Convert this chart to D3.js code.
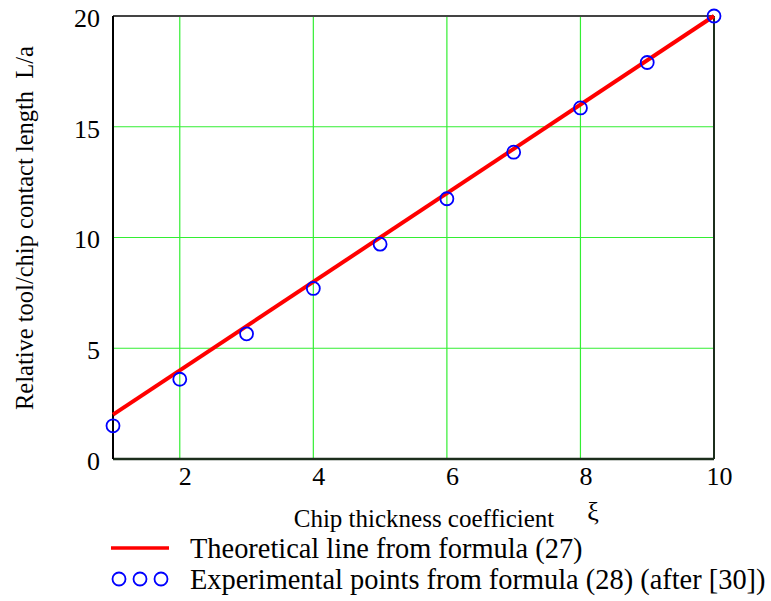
<!DOCTYPE html>
<html>
<head>
<meta charset="utf-8">
<script src="https://cdn.jsdelivr.net/npm/d3@7"></script>
<style>
  body { margin: 0; background: #fff; }
  text { font-family: "Liberation Serif", "Times New Roman", serif; fill: #000; }
</style>
</head>
<body>
<script>
// Data
const theoryXi = [1, 10];
const theoryL = [2, 20];
const expXi = [1, 2, 3, 4, 5, 6, 7, 8, 9, 10];
const expL = [1.5, 3.6, 5.65, 7.7, 9.7, 11.75, 13.85, 15.85, 17.9, 20];
const xTicks = [2, 4, 6, 8, 10];
const yTicks = [0, 5, 10, 15, 20];

const w = 771;
const h = 601;
const margin = {left: 113, right: 57, top: 16, bottom: 142};

const x = d3.scaleLinear().domain([1, 10]).range([margin.left, w - margin.right]);
const y = d3.scaleLinear().domain([0, 20]).range([h - margin.bottom, margin.top]);

const svg = d3.select("body").append("svg")
  .attr("width", w)
  .attr("height", h);

// grid
svg.append("g")
  .selectAll("line")
  .data(xTicks.filter(d => d < 10))
  .enter().append("line")
  .attr("x1", d => x(d)).attr("x2", d => x(d))
  .attr("y1", y(0)).attr("y2", y(20))
  .attr("stroke", "#33ee33").attr("stroke-width", 1.2);

svg.append("g")
  .selectAll("line")
  .data(yTicks.filter(d => d > 0 && d < 20))
  .enter().append("line")
  .attr("x1", x(1)).attr("x2", x(10))
  .attr("y1", d => y(d)).attr("y2", d => y(d))
  .attr("stroke", "#33ee33").attr("stroke-width", 1.2);

// frame
svg.append("line").attr("x1", x(1)).attr("x2", x(10)).attr("y1", y(20)).attr("y2", y(20))
  .attr("stroke", "#444").attr("stroke-width", 2);
svg.append("line").attr("x1", x(10)).attr("x2", x(10)).attr("y1", y(20)).attr("y2", y(0))
  .attr("stroke", "#1c2e1c").attr("stroke-width", 2);
svg.append("line").attr("x1", x(1)).attr("x2", x(10)).attr("y1", y(0)).attr("y2", y(0))
  .attr("stroke", "#1c2e1c").attr("stroke-width", 2.5);
svg.append("line").attr("x1", x(1)).attr("x2", x(1)).attr("y1", y(20)).attr("y2", y(0))
  .attr("stroke", "#000").attr("stroke-width", 2);

// axes (labels only)
const xAxis = svg.append("g")
  .attr("transform", `translate(5, ${y(0)})`)
  .call(d3.axisBottom(x).tickValues(xTicks).tickSize(0).tickPadding(8));
const yAxis = svg.append("g")
  .attr("transform", `translate(${x(1)}, 2)`)
  .call(d3.axisLeft(y).tickValues(yTicks).tickSize(0).tickPadding(13));
[xAxis, yAxis].forEach(a => {
  a.select(".domain").remove();
  a.selectAll("text")
    .style("font-family", "Liberation Serif, serif")
    .style("font-size", "26px")
    .attr("fill", "#000");
});

// theoretical line
const line = d3.line().x(d => x(d[0])).y(d => y(d[1]));
svg.append("path")
  .datum(d3.zip(theoryXi, theoryL))
  .attr("d", line)
  .attr("fill", "none")
  .attr("stroke", "#ff0000")
  .attr("stroke-width", 4);

// experimental points
svg.append("g")
  .selectAll("circle")
  .data(d3.zip(expXi, expL))
  .enter().append("circle")
  .attr("cx", d => x(d[0]))
  .attr("cy", d => y(d[1]))
  .attr("r", 6.5)
  .attr("fill", "none")
  .attr("stroke", "#0000ff")
  .attr("stroke-width", 1.8);

// axis titles
svg.append("text")
  .attr("x", 424).attr("y", 527)
  .attr("text-anchor", "middle")
  .style("font-size", "25px")
  .text("Chip thickness coefficient");
svg.append("text")
  .attr("x", 593).attr("y", 520)
  .attr("text-anchor", "middle")
  .style("font-size", "26px")
  .text("ξ");

svg.append("text")
  .attr("transform", "translate(33, 228) rotate(-90)")
  .attr("text-anchor", "middle")
  .style("font-size", "24.5px")
  .style("white-space", "pre")
  .text("Relative tool/chip contact length  L/a");

// legend
svg.append("line")
  .attr("x1", 111).attr("x2", 169).attr("y1", 548).attr("y2", 548)
  .attr("stroke", "#ff0000").attr("stroke-width", 3.5);
svg.append("g")
  .selectAll("circle")
  .data([119, 140, 161])
  .enter().append("circle")
  .attr("cx", d => d).attr("cy", 579).attr("r", 6.5)
  .attr("fill", "none").attr("stroke", "#0000ff").attr("stroke-width", 1.8);

svg.append("text")
  .attr("x", 190).attr("y", 558)
  .style("font-size", "28.4px")
  .text("Theoretical line from formula (27)");
svg.append("text")
  .attr("x", 190).attr("y", 589)
  .style("font-size", "28.4px")
  .text("Experimental points from formula (28) (after [30])");
</script>
</body>
</html>
